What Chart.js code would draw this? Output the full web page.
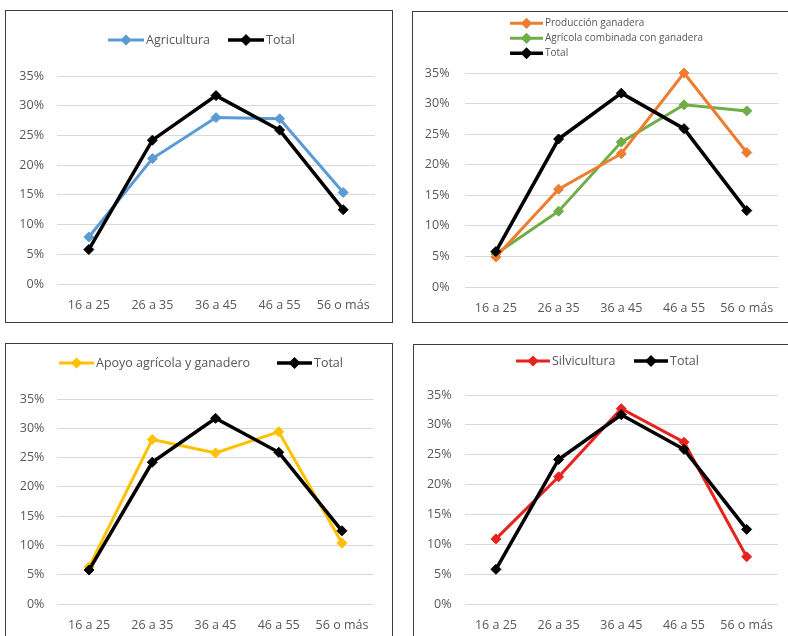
<!DOCTYPE html>
<html>
<head>
<meta charset="utf-8">
<script src="https://cdn.jsdelivr.net/npm/chart.js@4"></script>
<style>
  body { margin: 0; background: #fff; width: 788px; height: 636px; overflow: hidden; position: relative; }
  canvas, .frame { position: absolute; }
  .frame { border: 1.5px solid #3d3d3d; box-sizing: border-box; }
</style>
</head>
<body>
<canvas id="c1" style="left:5px;top:10px"></canvas>
<canvas id="c2" style="left:412px;top:11px"></canvas>
<canvas id="c3" style="left:5px;top:343px"></canvas>
<canvas id="c4" style="left:413px;top:344px"></canvas>
<div class="frame" style="left:5px;top:10px;width:388px;height:313px"></div>
<div class="frame" style="left:412px;top:11px;width:390px;height:312px"></div>
<div class="frame" style="left:5px;top:343px;width:388px;height:310px"></div>
<div class="frame" style="left:413px;top:344px;width:390px;height:310px"></div>
<script>
// age groups and shares (%) per activity
const ageGroups = ['16 a 25', '26 a 35', '36 a 45', '46 a 55', '56 o más'];
const yTickValues = [0, 5, 10, 15, 20, 25, 30, 35];

const total = [5.8, 24.2, 31.7, 25.9, 12.5];
const agricultura = [7.9, 21.1, 28.0, 27.8, 15.4];
const produccionGanadera = [4.9, 16.0, 21.8, 35.0, 22.0];
const agricolaConGanadera = [5.4, 12.4, 23.7, 29.8, 28.8];
const apoyoAgricola = [6.3, 28.1, 25.8, 29.4, 10.4];
const silvicultura = [10.9, 21.3, 32.7, 27.1, 7.9];

const FONT = '"Open Sans", sans-serif';
const TEXT = '#5a5656';

function series(label, data, color, width) {
  return {
    label, data,
    borderColor: color,
    backgroundColor: color,
    borderWidth: width,
    pointStyle: 'rectRot',
    pointRadius: 5,
    pointBorderWidth: 1,
    pointBackgroundColor: color,
    pointBorderColor: color,
    tension: 0,
    clip: false,
    order: label === 'Total' ? 0 : 1
  };
}

// legend drawn as Excel does: short line with the marker in the middle
const lineLegend = {
  id: 'lineLegend',
  afterDraw(chart, args, opts) {
    const ctx = chart.ctx;
    ctx.save();
    ctx.font = opts.fontSize + 'px ' + FONT;
    ctx.textBaseline = 'middle';
    chart.data.datasets.forEach((ds, i) => {
      const [x, y] = opts.items[i];
      const len = opts.lineLength;
      ctx.strokeStyle = ds.borderColor;
      ctx.lineWidth = ds.borderWidth;
      ctx.beginPath();
      ctx.moveTo(x, y);
      ctx.lineTo(x + len, y);
      ctx.stroke();
      Chart.helpers.drawPoint(ctx, { pointStyle: 'rectRot', radius: 3.5, borderWidth: 1 }, x + len / 2, y);
      ctx.fillStyle = ds.borderColor;
      ctx.fill();
      ctx.fillStyle = TEXT;
      ctx.fillText(ds.label, x + len + 2, y);
    });
    ctx.restore();
  }
};

function makePanel(id, w, h, datasets, area, legend) {
  const canvas = document.getElementById(id);
  canvas.width = w;
  canvas.height = h;
  new Chart(canvas, {
    type: 'line',
    data: { labels: ageGroups, datasets },
    options: {
      responsive: false,
      animation: false,
      events: [],
      layout: {
        padding: { left: 0, top: area.top, right: w - area.right, bottom: h - area.bottom - 30 }
      },
      plugins: {
        legend: { display: false },
        tooltip: { enabled: false },
        lineLegend: legend
      },
      scales: {
        x: {
          offset: true,
          grid: { display: false, drawTicks: false },
          border: { display: false },
          ticks: { font: { family: FONT, size: 12.5 }, color: TEXT, padding: 14, maxRotation: 0, autoSkip: false },
          afterFit: s => { s.height = 30; }
        },
        y: {
          min: 0,
          max: 35,
          afterBuildTicks: s => { s.ticks = yTickValues.map(v => ({ value: v })); },
          grid: { color: '#d9d9d9', lineWidth: 1, drawTicks: false },
          border: { display: false },
          ticks: { font: { family: FONT, size: 12.5 }, color: TEXT, padding: area.gap, callback: v => v + '%' },
          afterFit: s => { s.width = area.left; }
        }
      }
    },
    plugins: [lineLegend]
  });
}

makePanel('c1', 387, 312, [
  series('Agricultura', agricultura, '#5b9bd5', 3),
  series('Total', total, '#000000', 3.5)
], { left: 52, right: 370, top: 66, bottom: 274, gap: 13 },
{ fontSize: 12.5, lineLength: 36, items: [[103, 30], [223, 30]] });

makePanel('c2', 376, 311, [
  series('Producción ganadera', produccionGanadera, '#ed7d31', 3),
  series('Agrícola combinada con ganadera', agricolaConGanadera, '#70ad47', 3),
  series('Total', total, '#000000', 3.5)
], { left: 52.5, right: 367.5, top: 62, bottom: 276, gap: 15 },
{ fontSize: 10, lineLength: 33, items: [[98, 12.3], [98, 27.3], [98, 42.3]] });

makePanel('c3', 387, 293, [
  series('Apoyo agrícola y ganadero', apoyoAgricola, '#ffc000', 3),
  series('Total', total, '#000000', 3.5)
], { left: 52.4, right: 368.6, top: 56, bottom: 261, gap: 13 },
{ fontSize: 12.5, lineLength: 35, items: [[54, 20], [272, 20]] });

makePanel('c4', 375, 292, [
  series('Silvicultura', silvicultura, '#e8231f', 3),
  series('Total', total, '#000000', 3.5)
], { left: 51.6, right: 365.4, top: 51, bottom: 260, gap: 13 },
{ fontSize: 12.5, lineLength: 34, items: [[103, 17], [221, 17]] });
</script>
</body>
</html>
